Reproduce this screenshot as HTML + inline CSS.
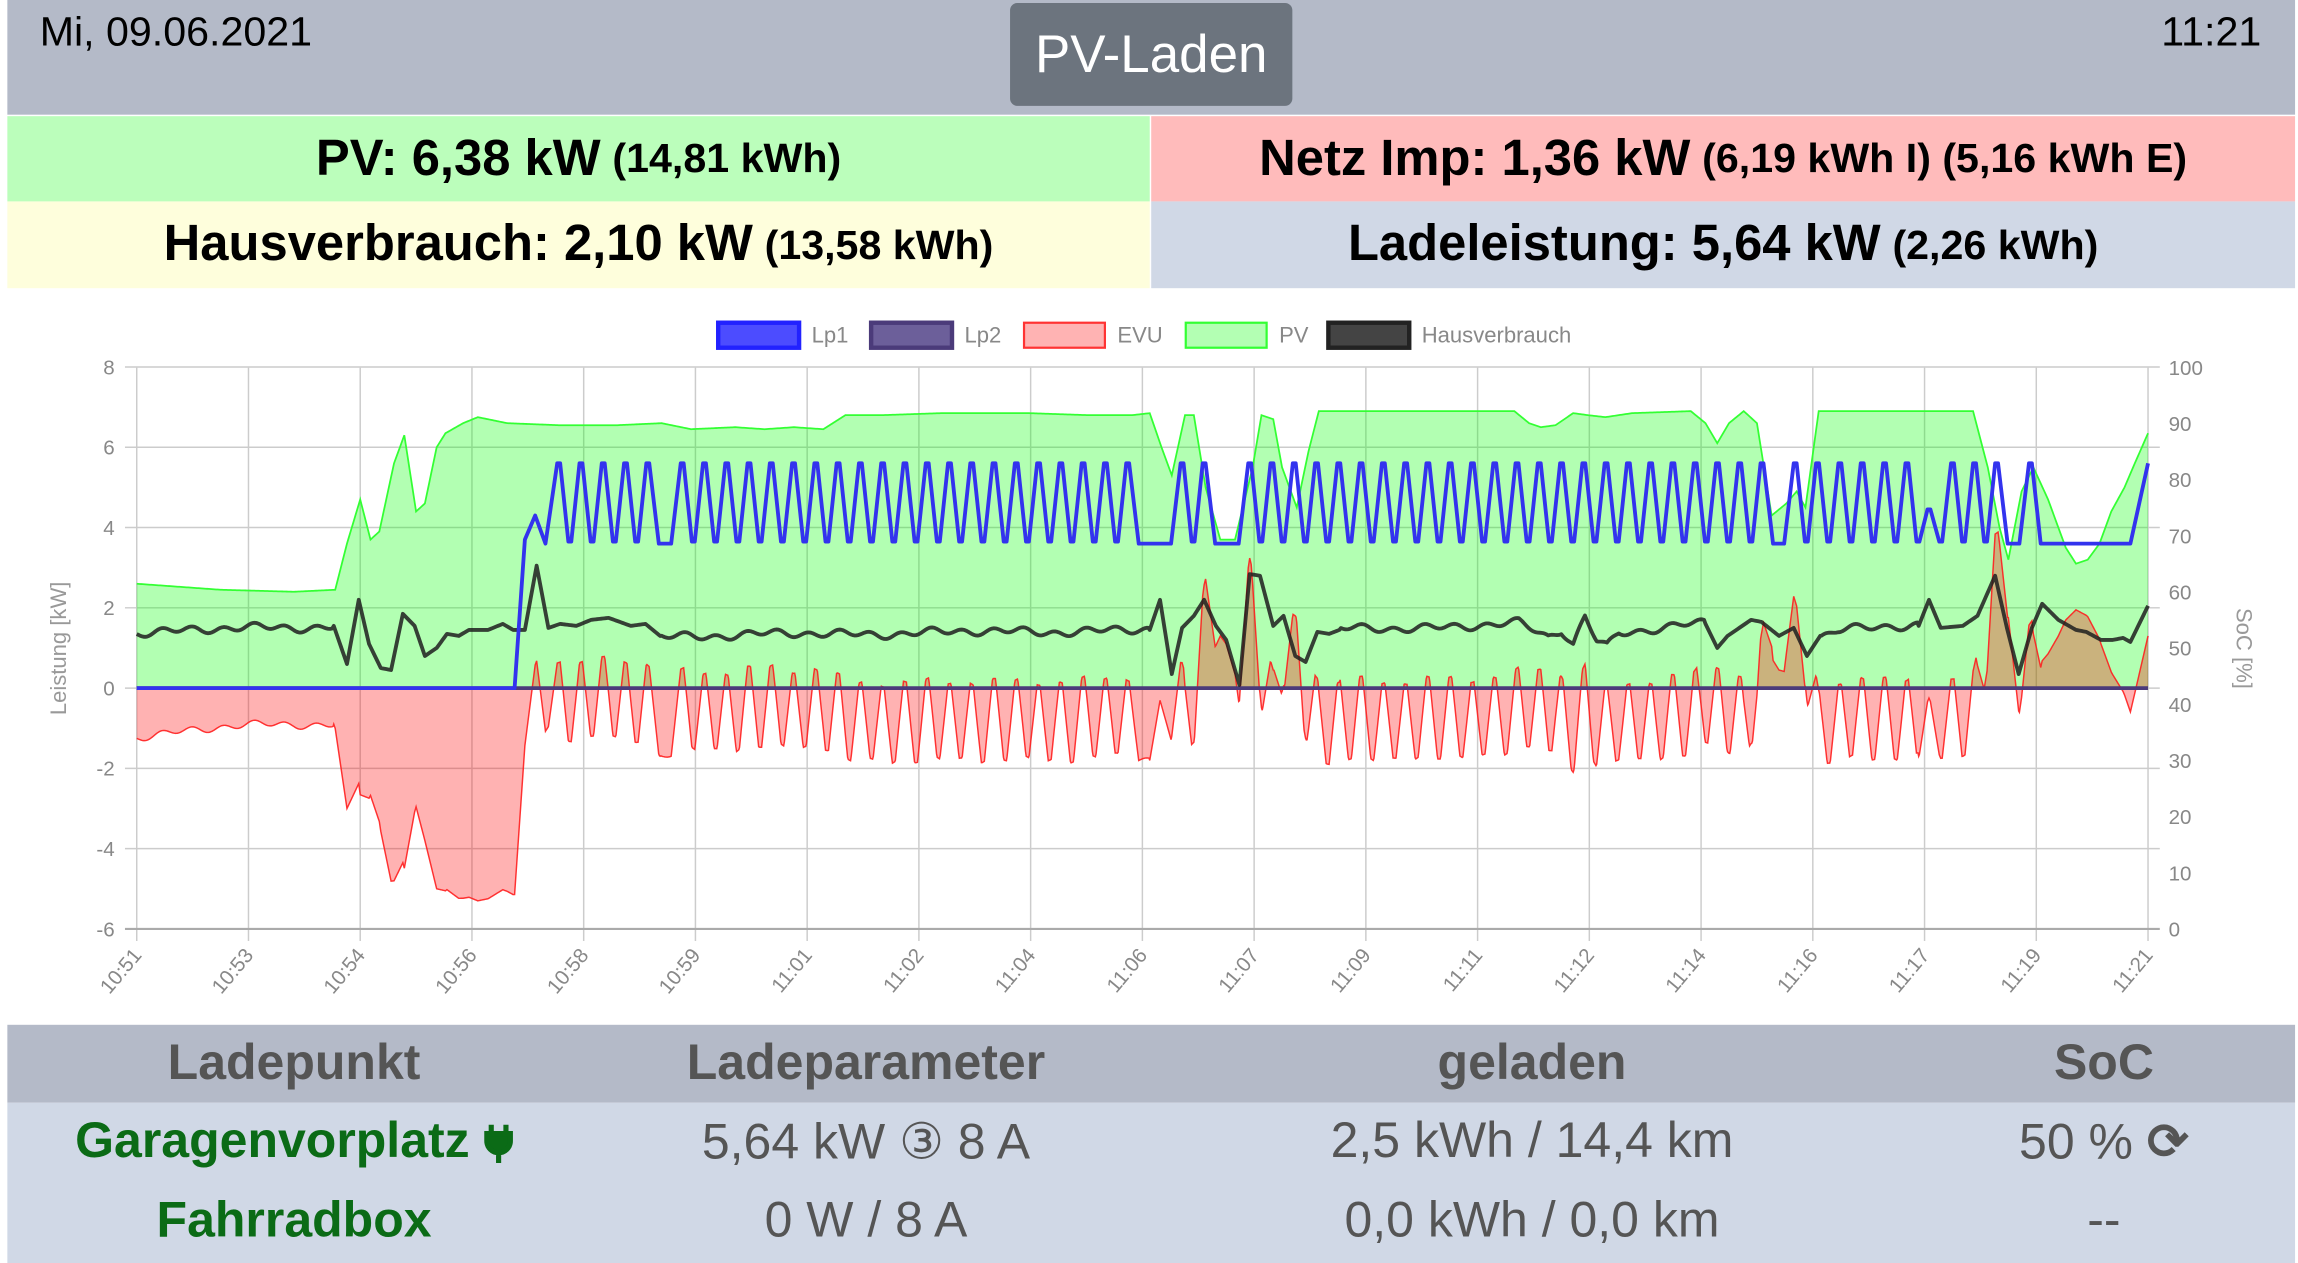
<!DOCTYPE html>
<html><head><meta charset="utf-8">
<style>
html,body{margin:0;padding:0;background:#fff;overflow:hidden;}
body{width:2298px;height:1263px;}
#root{position:absolute;left:0;top:0;width:1563px;height:859px;transform:scale(1.47025,1.4703);transform-origin:0 0;font-family:"Liberation Sans",sans-serif;}
.abs{position:absolute;}
.cell{position:absolute;display:flex;align-items:center;justify-content:center;font-weight:bold;color:#000;font-size:34.5px;white-space:nowrap;}
.cell small{font-size:28px;margin-left:8px;}
.th{position:absolute;top:697px;height:53px;line-height:53px;font-weight:bold;color:#555;font-size:34px;text-align:center;transform:translateX(-50%);white-space:nowrap;}
.td{position:absolute;font-size:34px;color:#555;text-align:center;transform:translateX(-50%);white-space:nowrap;}
.g{color:#0b6b16;font-weight:bold;}
</style></head><body>
<div id="root">
 <div class="abs" style="left:5px;top:0;width:1556px;height:78px;background:#b4bac8;"></div>
 <div class="abs" style="left:27px;top:6px;font-size:28px;color:#000;">Mi, 09.06.2021</div>
 <div class="abs" style="right:25px;top:6px;font-size:28px;color:#000;">11:21</div>
 <div class="abs" style="left:687px;top:2px;width:192px;height:70px;background:#6c747e;border-radius:5px;color:#fff;font-size:36px;line-height:70px;text-align:center;">PV-Laden</div>

 <div class="cell" style="left:5px;top:79px;width:777px;height:58px;background:#bbfebb;">PV: 6,38 kW<small>(14,81 kWh)</small></div>
 <div class="cell" style="left:783px;top:79px;width:778px;height:58px;background:#ffbbbb;">Netz Imp: 1,36 kW<small>(6,19 kWh I) (5,16 kWh E)</small></div>
 <div class="cell" style="left:5px;top:137px;width:777px;height:59px;background:#fefedc;">Hausverbrauch: 2,10 kW<small>(13,58 kWh)</small></div>
 <div class="cell" style="left:783px;top:137px;width:778px;height:59px;background:#d0d8e6;">Ladeleistung: 5,64 kW<small>(2,26 kWh)</small></div>

 <svg class="abs" style="left:0;top:0" width="1563" height="700" viewBox="0 0 1563 700" font-family="Liberation Sans, sans-serif">
  <g id="grid"></g>
  <g id="data"></g>
  <g id="labels" fill="#888" font-size="14"></g>
  <g font-size="15" fill="#888">
   <rect x="488.5" y="219.5" width="55" height="17" fill="rgba(0,0,255,0.7)" stroke="#2222ff" stroke-width="3"/>
   <text x="552" y="233">Lp1</text>
   <rect x="592.5" y="219.5" width="55" height="17" fill="#6c5f9a" stroke="#4b3b7a" stroke-width="3"/>
   <text x="656" y="233">Lp2</text>
   <rect x="696.5" y="219.5" width="55" height="17" fill="#ffb3b3" stroke="#ff3333" stroke-width="1.5"/>
   <text x="760" y="233">EVU</text>
   <rect x="806.5" y="219.5" width="55" height="17" fill="#b3ffb3" stroke="#33ff33" stroke-width="1.5"/>
   <text x="870" y="233">PV</text>
   <rect x="903.5" y="219.5" width="55" height="17" fill="#444" stroke="#222" stroke-width="3"/>
   <text x="967" y="233">Hausverbrauch</text>
  </g>
  <text transform="translate(45,441) rotate(-90)" text-anchor="middle" font-size="15" fill="#999">Leistung [kW]</text>
  <text transform="translate(1521,441) rotate(90)" text-anchor="middle" font-size="15" fill="#999">SoC [%]</text>
 </svg>

 <div class="abs" style="left:5px;top:697px;width:1556px;height:53px;background:#b4bac8;"></div>
 <div class="abs" style="left:5px;top:750px;width:1556px;height:109px;background:#d0d8e6;"></div>
 <div class="th" style="left:200px">Ladepunkt</div>
 <div class="th" style="left:589px">Ladeparameter</div>
 <div class="th" style="left:1042px">geladen</div>
 <div class="th" style="left:1431px">SoC</div>
 <div class="td g" style="left:200px;top:757px">Garagenvorplatz <svg width="20" height="28" viewBox="0 0 20 28" style="vertical-align:-4px"><path d="M5 2v6M15 2v6M2 8h16v5a8 8 0 0 1-16 0z M10 20v8" stroke="#0b6b16" stroke-width="3.5" fill="#0b6b16"/></svg></div>
 <div class="td" style="left:589px;top:757px">5,64 kW &#9314; 8 A</div>
 <div class="td" style="left:1042px;top:757px">2,5 kWh / 14,4 km</div>
 <div class="td" style="left:1431px;top:757px">50 % <b>&#10227;</b></div>
 <div class="td g" style="left:200px;top:811px">Fahrradbox</div>
 <div class="td" style="left:589px;top:811px">0 W / 8 A</div>
 <div class="td" style="left:1042px;top:811px">0,0 kWh / 0,0 km</div>
 <div class="td" style="left:1431px;top:811px">--</div>
</div>
<script>
(function(){
var NS="http://www.w3.org/2000/svg";
function el(p,tag,attrs,txt){var e=document.createElementNS(NS,tag);for(var k in attrs)e.setAttribute(k,attrs[k]);if(txt!=null)e.textContent=txt;p.appendChild(e);return e;}
var X0=93,X1=1461;
function Y(v){return 468-v*27.3;}
var grid=document.getElementById('grid'),data=document.getElementById('data'),lab=document.getElementById('labels');
var xt=["10:51","10:53","10:54","10:56","10:58","10:59","11:01","11:02","11:04","11:06","11:07","11:09","11:11","11:12","11:14","11:16","11:17","11:19","11:21"];
for(var i=0;i<19;i++){var x=X0+i*76;el(grid,'line',{x1:x,y1:250,x2:x,y2:640,stroke:'#ccc','stroke-width':1});
 el(lab,'text',{transform:'translate('+(x+4)+',650) rotate(-50)','text-anchor':'end'},xt[i]);}
for(var v=8;v>=-6;v-=2){var y=Y(v);el(grid,'line',{x1:85,y1:y,x2:1469,y2:y,stroke:v==-6?'#aaa':'#ccc','stroke-width':v==-6?1.5:1});
 el(lab,'text',{x:78,y:y+5,'text-anchor':'end'},String(v));}
for(var s=0;s<=100;s+=10){var y=632-s*3.82;el(lab,'text',{x:1475,y:y+5},String(s));}
function interp(p,x){if(x<=p[0][0])return p[0][1];for(var i=1;i<p.length;i++){if(x<=p[i][0]){var a=p[i-1],b=p[i];return a[1]+(b[1]-a[1])*(x-a[0])/(b[0]-a[0]);}}return p[p.length-1][1];}
var PV=[[93,2.6],[150,2.45],[200,2.4],[228,2.45],[236,3.6],[245,4.7],[252,3.7],[258,3.9],[268,5.6],[275,6.3],[283,4.4],[289,4.6],[297,6.0],[303,6.35],[315,6.6],[325,6.75],[345,6.6],[380,6.55],[420,6.55],[450,6.6],[470,6.45],[500,6.5],[520,6.45],[540,6.5],[560,6.45],[575,6.8],[600,6.8],[640,6.85],[700,6.85],[740,6.8],[770,6.8],[782,6.85],[790,6.0],[797,5.3],[806,6.8],[812,6.8],[820,5.0],[830,3.7],[840,3.7],[852,5.5],[858,6.8],[866,6.7],[872,5.5],[882,4.5],[890,5.9],[897,6.9],[1030,6.9],[1040,6.6],[1048,6.5],[1058,6.55],[1070,6.85],[1080,6.8],[1092,6.75],[1110,6.85],[1150,6.9],[1160,6.6],[1168,6.1],[1176,6.6],[1186,6.9],[1195,6.6],[1205,4.3],[1215,4.6],[1222,4.9],[1228,4.5],[1237,6.9],[1342,6.9],[1352,5.5],[1360,4.0],[1366,3.2],[1375,4.9],[1383,5.5],[1393,4.7],[1405,3.5],[1412,3.1],[1420,3.2],[1428,3.6],[1436,4.4],[1445,5.0],[1452,5.6],[1461,6.35]];
var peaks=[];for(var p=380;p<=441;p+=15.15)peaks.push(p);
for(var p=464;p<=781;p+=15.15)peaks.push(p);peaks.push(804,819);
for(var p=850;p<=1199;p+=15.15)peaks.push(p);
[1221,1236.2,1251.4,1266.6,1281.8,1297,1312,1328,1343,1358,1381].forEach(function(q){peaks.push(q);});
var LP=[[93,0],[350,0],[357,3.7],[364,4.3],[371,3.6]];
var HI=5.65,LO=3.6;
for(var i=0;i<peaks.length;i++){var pk=peaks[i],prev=i?peaks[i-1]:371;
 var hi=(Math.abs(pk-1312)<1)?4.5:HI;
 if(i>0){ if(pk-prev>20){LP.push([prev+7.5,LO]);LP.push([pk-7.5,LO]);} else {LP.push([(prev+pk)/2-1,LO+0.05]);LP.push([(prev+pk)/2+1,LO+0.05]);} }
 LP.push([pk-1,hi-0.05]);LP.push([pk+1,hi-0.05]);}
LP.push([1388,LO],[1449,LO],[1461,5.6]);
var H=[[93,1.4],[227,1.55],[236,0.6],[244,2.2],[251,1.1],[259,0.5],[266,0.45],[274,1.85],[282,1.55],[289,0.8],[297,1.0],[304,1.35],[312,1.3],[319,1.45],[332,1.45],[342,1.6],[349,1.45],[357,1.45],[365,3.05],[373,1.5],[381,1.6],[392,1.55],[402,1.7],[414,1.75],[429,1.55],[439,1.6],[449,1.3],[782,1.45],[789,2.2],[797,0.35],[804,1.5],[812,1.8],[819,2.2],[827,1.55],[834,1.2],[843,0.08],[850,2.84],[857,2.8],[866,1.55],[873,1.8],[881,0.8],[888,0.65],[896,1.4],[904,1.35],[911,1.45],[1033,1.6],[1053,1.25],[1062,1.45],[1070,1.1],[1078,1.8],[1086,1.2],[1093,1.05],[1101,1.4],[1160,1.6],[1168,1.0],[1175,1.3],[1191,1.7],[1198,1.65],[1210,1.3],[1220,1.5],[1229,0.8],[1238,1.3],[1250,1.45],[1280,1.5],[1305,1.55],[1312,2.2],[1320,1.5],[1335,1.55],[1345,1.8],[1357,2.8],[1365,1.5],[1373,0.35],[1382,1.5],[1389,2.1],[1400,1.7],[1412,1.45],[1419,1.4],[1429,1.2],[1437,1.2],[1444,1.25],[1449,1.15],[1461,2.05]];
function flat(x){return (x<227)||(x>449&&x<782)||(x>911&&x<1160)||(x>1238&&x<1305);}
function hval(x){var v=interp(H,x);if(flat(x))v+=0.07*Math.sin(x*0.3)+0.05*Math.sin(x*0.11+1)+0.03*Math.sin(x*0.05);return v;}
var d='M'+X0+','+Y(0);for(var x=X0;x<=X1;x++)d+=' L'+x+','+Y(interp(PV,x)).toFixed(2);d+=' L'+X1+','+Y(0)+'Z';
el(data,'path',{d:d,fill:'rgba(0,255,0,0.3)',stroke:'none'});
var dl='M'+X0+','+Y(interp(PV,X0));for(var x=X0+1;x<=X1;x++)dl+=' L'+x+','+Y(interp(PV,x)).toFixed(2);
el(data,'path',{d:dl,fill:'none',stroke:'#33ff33','stroke-width':1.2});
var ev=[];for(var x=X0;x<=X1;x+=0.5){var lp=interp(LP,x);ev.push([x,hval(x)+lp-interp(PV,x)]);}
var dr='M'+X0+','+Y(0);ev.forEach(function(q){dr+=' L'+q[0]+','+Y(q[1]).toFixed(2);});dr+=' L'+X1+','+Y(0)+'Z';
el(data,'path',{d:dr,fill:'rgba(255,0,0,0.3)',stroke:'none'});
var drl='';ev.forEach(function(q,i){drl+=(i?' L':'M')+q[0]+','+Y(q[1]).toFixed(2);});
el(data,'path',{d:drl,fill:'none',stroke:'rgba(255,30,30,0.9)','stroke-width':1});
el(data,'line',{x1:X0,y1:Y(0),x2:X1,y2:Y(0),stroke:'#4b3b7a','stroke-width':2.5});
var dh='';for(var x=X0;x<=X1;x+=1)dh+=(x==X0?'M':' L')+x+','+Y(hval(x)).toFixed(2);
el(data,'path',{d:dh,fill:'none',stroke:'rgba(30,30,30,0.85)','stroke-width':2.6,'stroke-linejoin':'round'});
var db='';LP.forEach(function(q,i){db+=(i?' L':'M')+q[0].toFixed(2)+','+Y(q[1]).toFixed(2);});
el(data,'path',{d:db,fill:'none',stroke:'#3333ee','stroke-width':2.6,'stroke-linejoin':'round'});
})();
</script>
</body></html>
